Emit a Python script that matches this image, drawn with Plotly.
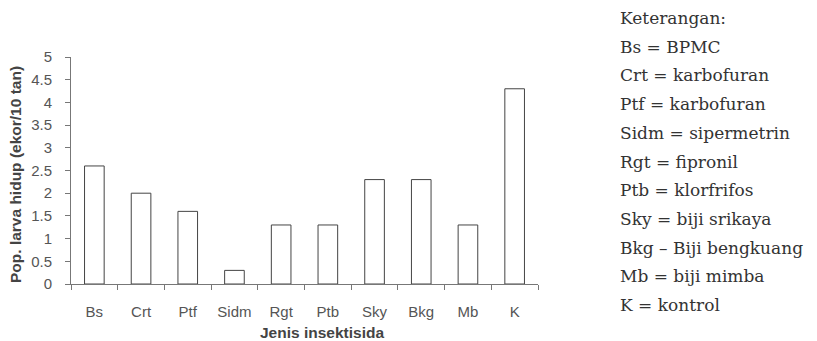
import plotly.graph_objects as go

categories = ["Bs", "Crt", "Ptf", "Sidm", "Rgt", "Ptb", "Sky", "Bkg", "Mb", "K"]
values = [2.6, 2.0, 1.6, 0.3, 1.3, 1.3, 2.3, 2.3, 1.3, 4.3]
y_ticks = [0, 0.5, 1, 1.5, 2, 2.5, 3, 3.5, 4, 4.5, 5]
y_tick_labels = ["0", "0.5", "1", "1.5", "2", "2.5", "3", "3.5", "4", "4.5", "5"]
x_title = "Jenis insektisida"
y_title = "Pop. larva hidup (ekor/10 tan)"
legend_lines = [
    "Keterangan:",
    "Bs = BPMC",
    "Crt = karbofuran",
    "Ptf = karbofuran",
    "Sidm = sipermetrin",
    "Rgt = fipronil",
    "Ptb = klorfrifos",
    "Sky = biji srikaya",
    "Bkg – Biji bengkuang",
    "Mb = biji mimba",
    "K = kontrol",
]

# page has an 8px body margin; figure is placed at (8, 8)
OFF = 8
W, H = 817 - OFF, 341 - OFF
L, R, T, B = 71 - OFF, 279, 57 - OFF, 57
plot_w = W - L - R
plot_h = H - T - B


def px_to_paper(px, py):
    return (px - OFF - L) / plot_w, 1 - (py - OFF - T) / plot_h


fig = go.Figure()
fig.add_trace(go.Bar(
    x=categories, y=values, width=0.42,
    marker=dict(color="white", line=dict(color="#444", width=1)),
))

axis_font = dict(family="Liberation Sans, Arial", size=15, color="#555")
title_font = dict(family="Liberation Sans, Arial", size=15.5, color="#444")
fig.update_layout(
    width=W, height=H,
    margin=dict(l=L, r=R, t=T, b=B),
    plot_bgcolor="white", paper_bgcolor="white",
    showlegend=False,
    xaxis=dict(
        automargin=False,
        showline=True, linecolor="#777", linewidth=1,
        ticks="outside", tickson="boundaries", ticklen=5, tickcolor="#777",
        tickfont=axis_font, showgrid=False, ticklabelstandoff=14,
    ),
    yaxis=dict(
        automargin=False,
        range=[0, 5], tickvals=y_ticks, ticktext=y_tick_labels,
        showline=True, linecolor="#777", linewidth=1,
        ticks="outside", ticklen=5, tickcolor="#777",
        tickfont=axis_font, showgrid=False, zeroline=False, ticklabelstandoff=10,
    ),
)

xt, yt = px_to_paper(322, 332)
fig.add_annotation(x=xt, y=yt, xref="paper", yref="paper", text="<b>" + x_title + "</b>",
                   showarrow=False, xanchor="center", yanchor="middle", borderpad=0, font=title_font)
xt, yt = px_to_paper(15, 175)
fig.add_annotation(x=xt, y=yt, xref="paper", yref="paper", text="<b>" + y_title + "</b>",
                   showarrow=False, xanchor="center", yanchor="middle", textangle=-90, borderpad=0,
                   font=title_font)

for i, line in enumerate(legend_lines):
    xa, ya = px_to_paper(619, 18 + i * 28.7)
    fig.add_annotation(
        x=xa, y=ya, xref="paper", yref="paper",
        text=line, showarrow=False, xanchor="left", yanchor="middle",
        borderpad=0,
        font=dict(family="DejaVu Serif, Liberation Serif", size=17, color="#333"),
    )

fig.write_html("out.html")
